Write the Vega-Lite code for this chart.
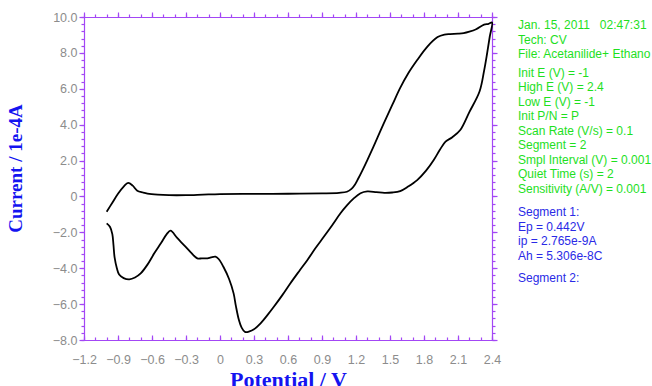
{
  "$schema": "https://vega.github.io/schema/vega-lite/v6.json",
  "autosize": {"type": "pad"},
  "padding": {"left": 6, "top": 10, "right": 0, "bottom": 0},
  "background": "white",
  "config": {
    "view": {"stroke": "transparent"},
    "axis": {
      "grid": false,
      "domainColor": "#a347f5",
      "tickColor": "#a347f5",
      "domainWidth": 1.2,
      "tickWidth": 1.2,
      "labelFont": "Liberation Sans",
      "labelFontSize": 12.5,
      "labelColor": "#8c8c8c",
      "labelFlush": false,
      "labelOverlap": false,
      "titleFont": "Liberation Serif",
      "titleFontWeight": "bold",
      "titleColor": "#1414f0"
    }
  },
  "datasets": {
    "cv": [
      {"i": 0, "E": -1.0, "I": -0.85},
      {"i": 1, "E": -0.95, "I": -0.35},
      {"i": 2, "E": -0.9, "I": 0.15},
      {"i": 3, "E": -0.85, "I": 0.55},
      {"i": 4, "E": -0.81, "I": 0.76},
      {"i": 5, "E": -0.77, "I": 0.6},
      {"i": 6, "E": -0.73, "I": 0.32},
      {"i": 7, "E": -0.68, "I": 0.22},
      {"i": 8, "E": -0.64, "I": 0.16},
      {"i": 9, "E": -0.55, "I": 0.1},
      {"i": 10, "E": -0.45, "I": 0.07},
      {"i": 11, "E": -0.3, "I": 0.07},
      {"i": 12, "E": -0.15, "I": 0.1},
      {"i": 13, "E": 0.0, "I": 0.13},
      {"i": 14, "E": 0.3, "I": 0.14},
      {"i": 15, "E": 0.6, "I": 0.15},
      {"i": 16, "E": 0.9, "I": 0.17},
      {"i": 17, "E": 1.05, "I": 0.2},
      {"i": 18, "E": 1.12, "I": 0.26},
      {"i": 19, "E": 1.16, "I": 0.42},
      {"i": 20, "E": 1.19, "I": 0.65},
      {"i": 21, "E": 1.22, "I": 1.0},
      {"i": 22, "E": 1.26, "I": 1.5},
      {"i": 23, "E": 1.3, "I": 2.03},
      {"i": 24, "E": 1.37, "I": 3.0},
      {"i": 25, "E": 1.445, "I": 4.07},
      {"i": 26, "E": 1.52, "I": 5.1},
      {"i": 27, "E": 1.59, "I": 6.05},
      {"i": 28, "E": 1.66, "I": 6.85},
      {"i": 29, "E": 1.74, "I": 7.6},
      {"i": 30, "E": 1.83, "I": 8.35},
      {"i": 31, "E": 1.92, "I": 8.88},
      {"i": 32, "E": 1.98, "I": 9.02},
      {"i": 33, "E": 2.03, "I": 9.05},
      {"i": 34, "E": 2.1, "I": 9.07},
      {"i": 35, "E": 2.15, "I": 9.1},
      {"i": 36, "E": 2.2, "I": 9.18},
      {"i": 37, "E": 2.26, "I": 9.32},
      {"i": 38, "E": 2.33, "I": 9.58},
      {"i": 39, "E": 2.37, "I": 9.62},
      {"i": 40, "E": 2.4, "I": 9.7},
      {"i": 41, "E": 2.38, "I": 8.9},
      {"i": 42, "E": 2.357, "I": 7.98},
      {"i": 43, "E": 2.33, "I": 7.0},
      {"i": 44, "E": 2.29, "I": 5.85},
      {"i": 45, "E": 2.2, "I": 4.7},
      {"i": 46, "E": 2.12, "I": 3.7},
      {"i": 47, "E": 2.05, "I": 3.3},
      {"i": 48, "E": 1.99, "I": 3.05},
      {"i": 49, "E": 1.94, "I": 2.6},
      {"i": 50, "E": 1.886, "I": 2.03},
      {"i": 51, "E": 1.82, "I": 1.45},
      {"i": 52, "E": 1.74, "I": 0.91},
      {"i": 53, "E": 1.66, "I": 0.55},
      {"i": 54, "E": 1.59, "I": 0.3},
      {"i": 55, "E": 1.52, "I": 0.22},
      {"i": 56, "E": 1.45, "I": 0.2},
      {"i": 57, "E": 1.38, "I": 0.24},
      {"i": 58, "E": 1.3, "I": 0.28},
      {"i": 59, "E": 1.24, "I": 0.18},
      {"i": 60, "E": 1.18, "I": -0.11},
      {"i": 61, "E": 1.12, "I": -0.5},
      {"i": 62, "E": 1.063, "I": -0.94},
      {"i": 63, "E": 0.99, "I": -1.6},
      {"i": 64, "E": 0.916, "I": -2.25},
      {"i": 65, "E": 0.84, "I": -2.9},
      {"i": 66, "E": 0.77, "I": -3.55},
      {"i": 67, "E": 0.7, "I": -4.15},
      {"i": 68, "E": 0.62, "I": -4.85},
      {"i": 69, "E": 0.55, "I": -5.5},
      {"i": 70, "E": 0.475, "I": -6.15},
      {"i": 71, "E": 0.42, "I": -6.6},
      {"i": 72, "E": 0.358, "I": -7.07},
      {"i": 73, "E": 0.3, "I": -7.4},
      {"i": 74, "E": 0.26, "I": -7.52},
      {"i": 75, "E": 0.22, "I": -7.55},
      {"i": 76, "E": 0.19, "I": -7.3},
      {"i": 77, "E": 0.167, "I": -6.89},
      {"i": 78, "E": 0.14, "I": -6.1},
      {"i": 79, "E": 0.12, "I": -5.4},
      {"i": 80, "E": 0.08, "I": -4.6},
      {"i": 81, "E": 0.03, "I": -3.92},
      {"i": 82, "E": -0.01, "I": -3.5},
      {"i": 83, "E": -0.04, "I": -3.36},
      {"i": 84, "E": -0.08, "I": -3.4},
      {"i": 85, "E": -0.11, "I": -3.45},
      {"i": 86, "E": -0.16, "I": -3.45},
      {"i": 87, "E": -0.2, "I": -3.45},
      {"i": 88, "E": -0.26, "I": -3.1},
      {"i": 89, "E": -0.318, "I": -2.71},
      {"i": 90, "E": -0.38, "I": -2.3},
      {"i": 91, "E": -0.436, "I": -1.91},
      {"i": 92, "E": -0.47, "I": -2.1},
      {"i": 93, "E": -0.52, "I": -2.6},
      {"i": 94, "E": -0.58, "I": -3.17},
      {"i": 95, "E": -0.64, "I": -3.8},
      {"i": 96, "E": -0.7, "I": -4.29},
      {"i": 97, "E": -0.75, "I": -4.52},
      {"i": 98, "E": -0.8, "I": -4.62},
      {"i": 99, "E": -0.85, "I": -4.55},
      {"i": 100, "E": -0.89, "I": -4.35},
      {"i": 101, "E": -0.91, "I": -4.0},
      {"i": 102, "E": -0.93, "I": -3.4},
      {"i": 103, "E": -0.94, "I": -2.7},
      {"i": 104, "E": -0.95, "I": -2.1},
      {"i": 105, "E": -0.97, "I": -1.7},
      {"i": 106, "E": -1.0, "I": -1.5}
    ],
    "info": [
      {"line": 0, "kind": "param", "text": "Jan. 15, 2011\u00a0\u00a0\u00a002:47:31"},
      {"line": 1, "kind": "param", "text": "Tech: CV"},
      {"line": 2, "kind": "param", "text": "File: Acetanilide+ Ethano"},
      {"line": 3.31, "kind": "param", "text": "Init E (V) = -1"},
      {"line": 4.31, "kind": "param", "text": "High E (V) = 2.4"},
      {"line": 5.31, "kind": "param", "text": "Low E (V) = -1"},
      {"line": 6.31, "kind": "param", "text": "Init P/N = P"},
      {"line": 7.31, "kind": "param", "text": "Scan Rate (V/s) = 0.1"},
      {"line": 8.31, "kind": "param", "text": "Segment = 2"},
      {"line": 9.31, "kind": "param", "text": "Smpl Interval (V) = 0.001"},
      {"line": 10.31, "kind": "param", "text": "Quiet Time (s) = 2"},
      {"line": 11.31, "kind": "param", "text": "Sensitivity (A/V) = 0.001"},
      {"line": 12.9, "kind": "result", "text": "Segment 1:"},
      {"line": 13.9, "kind": "result", "text": "Ep = 0.442V"},
      {"line": 14.9, "kind": "result", "text": "ip = 2.765e-9A"},
      {"line": 15.9, "kind": "result", "text": "Ah = 5.306e-8C"},
      {"line": 17.45, "kind": "result", "text": "Segment 2:"}
    ]
  },
  "hconcat": [
    {
      "width": 408,
      "height": 323,
      "data": {"name": "cv"},
      "resolve": {"axis": {"x": "independent", "y": "independent"}},
      "layer": [
        {
          "mark": {"type": "line", "color": "#000000", "strokeWidth": 1.8, "strokeJoin": "round", "interpolate": "catmull-rom"},
          "encoding": {
            "order": {"field": "i", "type": "quantitative"},
            "x": {
              "field": "E", "type": "quantitative",
              "scale": {"domain": [-1.2, 2.4], "nice": false, "zero": false},
              "axis": {
                "orient": "bottom", "title": "Potential / V", "titleFontSize": 22, "titlePadding": 4,
                "values": [-1.2, -0.9, -0.6, -0.3, 0, 0.3, 0.6, 0.9, 1.2, 1.5, 1.8, 2.1, 2.4],
                "tickSize": -5, "labelPadding": 18,
                "labelExpr": "datum.value == 0 ? '0' : format(datum.value, '.1f')"
              }
            },
            "y": {
              "field": "I", "type": "quantitative",
              "scale": {"domain": [-8, 10], "nice": false, "zero": false},
              "axis": {
                "orient": "left", "title": "Current / 1e-4A", "titleFontSize": 19, "titlePadding": 26.5, "titleY": 151,
                "values": [-8, -6, -4, -2, 0, 2, 4, 6, 8, 10],
                "tickSize": 5, "labelPadding": 2,
                "labelExpr": "datum.value == 0 ? '0' : format(datum.value, '.1f')"
              }
            }
          }
        },
        {
          "mark": {"type": "line", "opacity": 0},
          "encoding": {
            "order": {"field": "i", "type": "quantitative"},
            "x": {"field": "E", "type": "quantitative", "axis": {
              "orient": "bottom", "title": null, "labels": false, "domain": false, "tickSize": -3,
              "values": [-1.2, -1.1, -1.0, -0.9, -0.8, -0.7, -0.6, -0.5, -0.4, -0.3, -0.2, -0.1, 0, 0.1, 0.2, 0.3, 0.4, 0.5, 0.6, 0.7, 0.8, 0.9, 1.0, 1.1, 1.2, 1.3, 1.4, 1.5, 1.6, 1.7, 1.8, 1.9, 2.0, 2.1, 2.2, 2.3, 2.4]
            }},
            "y": {"field": "I", "type": "quantitative", "axis": {
              "orient": "left", "title": null, "labels": false, "domain": false, "tickSize": 3,
              "values": [-8, -7.6, -7.2, -6.8, -6.4, -6, -5.6, -5.2, -4.8, -4.4, -4, -3.6, -3.2, -2.8, -2.4, -2, -1.6, -1.2, -0.8, -0.4, 0, 0.4, 0.8, 1.2, 1.6, 2, 2.4, 2.8, 3.2, 3.6, 4, 4.4, 4.8, 5.2, 5.6, 6, 6.4, 6.8, 7.2, 7.6, 8, 8.4, 8.8, 9.2, 9.6, 10]
            }}
          }
        },
        {
          "mark": {"type": "line", "opacity": 0},
          "encoding": {
            "order": {"field": "i", "type": "quantitative"},
            "x": {"field": "E", "type": "quantitative", "axis": {
              "orient": "top", "title": null, "labels": false, "tickSize": 5,
              "values": [-1.2, -0.9, -0.6, -0.3, 0, 0.3, 0.6, 0.9, 1.2, 1.5, 1.8, 2.1, 2.4]
            }},
            "y": {"field": "I", "type": "quantitative", "axis": {
              "orient": "right", "title": null, "labels": false, "tickSize": 5,
              "values": [-8, -6, -4, -2, 0, 2, 4, 6, 8, 10]
            }}
          }
        },
        {
          "mark": {"type": "line", "opacity": 0},
          "encoding": {
            "order": {"field": "i", "type": "quantitative"},
            "x": {"field": "E", "type": "quantitative", "axis": {
              "orient": "top", "title": null, "labels": false, "domain": false, "tickSize": 3,
              "values": [-1.2, -1.1, -1.0, -0.9, -0.8, -0.7, -0.6, -0.5, -0.4, -0.3, -0.2, -0.1, 0, 0.1, 0.2, 0.3, 0.4, 0.5, 0.6, 0.7, 0.8, 0.9, 1.0, 1.1, 1.2, 1.3, 1.4, 1.5, 1.6, 1.7, 1.8, 1.9, 2.0, 2.1, 2.2, 2.3, 2.4]
            }},
            "y": {"field": "I", "type": "quantitative", "axis": {
              "orient": "right", "title": null, "labels": false, "domain": false, "tickSize": 3,
              "values": [-8, -7.6, -7.2, -6.8, -6.4, -6, -5.6, -5.2, -4.8, -4.4, -4, -3.6, -3.2, -2.8, -2.4, -2, -1.6, -1.2, -0.8, -0.4, 0, 0.4, 0.8, 1.2, 1.6, 2, 2.4, 2.8, 3.2, 3.6, 4, 4.4, 4.8, 5.2, 5.6, 6, 6.4, 6.8, 7.2, 7.6, 8, 8.4, 8.8, 9.2, 9.6, 10]
            }}
          }
        }
      ]
    },
    {
      "width": 130,
      "height": 323,
      "data": {"name": "info"},
      "mark": {"type": "text", "align": "left", "baseline": "middle", "font": "Liberation Sans", "fontSize": 12, "x": 0},
      "encoding": {
        "y": {"field": "line", "type": "quantitative", "axis": null,
          "scale": {"domain": [-0.552, 21.724], "reverse": true, "nice": false, "zero": false}},
        "text": {"field": "text"},
        "color": {"field": "kind", "type": "nominal", "legend": null,
          "scale": {"domain": ["param", "result"], "range": ["#1ee01e", "#2a2ae6"]}}
      }
    }
  ],
  "spacing": 15
}
